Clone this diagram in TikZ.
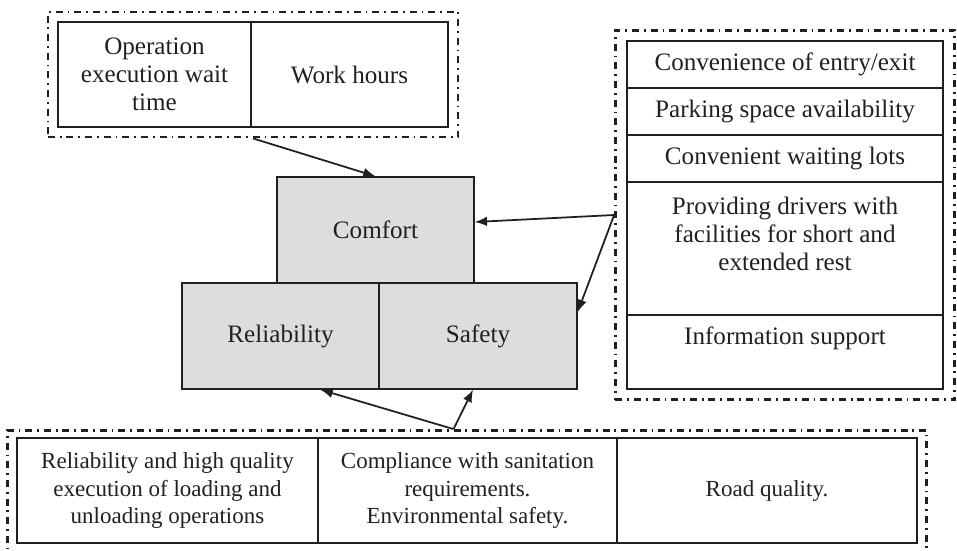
\documentclass[tikz,border=0pt]{standalone}
\usepackage{fontspec}
\setmainfont{Liberation Serif}
\usetikzlibrary{arrows.meta,fit}

\definecolor{corefill}{HTML}{DCDDDF}
\definecolor{ink}{HTML}{231F20}

\tikzset{
    cell/.style={draw=ink, line width=0.8pt, align=center, inner sep=0pt,
        text=ink, font=\fontsize{14.3}{16}\selectfont},
    core/.style={cell, fill=corefill, minimum width=3.94cm, minimum height=2.12cm},
    row/.style={cell, minimum width=6.32cm},
    lowcell/.style={cell, minimum height=2.1cm, font=\fontsize{13.1}{15.6}\selectfont},
    group/.style={draw=ink, line width=1.4pt,
        dash pattern=on 4pt off 2.8pt on 1pt off 2.8pt},
    link/.style={draw=ink, line width=1pt, -{Latex[length=7pt,width=5.5pt]}}
}

\begin{document}
\begin{tikzpicture}[x=0.02cm, y=-0.02cm]
    \useasboundingbox (0, 0) rectangle (957, 551);

    % time factors
    \node[cell, minimum width=3.86cm, minimum height=2.1cm] (opwait) at (154.5, 74.5)
        {Operation\\execution wait\\time};
    \node[cell, minimum width=3.94cm, minimum height=2.1cm] (hours) at (349.5, 74.5)
        {Work hours};
    \node[group, fit=(opwait)(hours), inner xsep=0.19cm, inner ysep=0.19cm] (timegrp) {};

    % the three core properties
    \node[core] (comfort) at (375.5, 230) {Comfort};
    \node[core] (reliab) at (280.5, 336) {Reliability};
    \node[core, minimum width=3.96cm] (safety) at (478, 336) {Safety};

    % terminal facilities
    \node[row, minimum height=0.94cm] (entry) at (785, 64.5) {Convenience of entry/exit};
    \node[row, minimum height=0.94cm] (parking) at (785, 111.5) {Parking space availability};
    \node[row, minimum height=0.94cm] (waiting) at (785, 158.5) {Convenient waiting lots};
    \node[row, minimum height=2.66cm, text depth=16.5pt] (rest) at (785, 248.5)
        {Providing drivers with\\facilities for short and\\extended rest};
    \node[row, minimum height=1.48cm, text depth=19pt] (info) at (785, 352)
        {Information support};
    \node[group, fit=(entry)(info), inner xsep=0.22cm, inner ysep=0.2cm] (facgrp) {};

    % operations and road
    \node[lowcell, minimum width=6.02cm] (loading) at (167.5, 490.5)
        {Reliability and high quality\\execution of loading and\\unloading operations};
    \node[lowcell, minimum width=5.98cm] (sanit) at (467.5, 490.5)
        {Compliance with sanitation\\requirements.\\Environmental safety.};
    \node[lowcell, minimum width=6cm] (road) at (767, 490.5) {Road quality.};
    \coordinate (bot_end) at (468, 565);
    \node[group, fit=(loading)(road)(bot_end), inner xsep=0.18cm, inner ysep=0.14cm] (opgrp) {};

    \draw[link] (timegrp.south) -- (comfort.north);
    \draw[link] (facgrp.west) -- ([yshift=0.16cm]comfort.east);
    \draw[link] (facgrp.west) -- ([yshift=0.48cm]safety.east);
    \draw[link] ([xshift=-0.27cm]opgrp.north) -- ([xshift=0.8cm]reliab.south);
    \draw[link] ([xshift=-0.27cm]opgrp.north) -- ([xshift=-0.1cm]safety.south);
\end{tikzpicture}
\end{document}
